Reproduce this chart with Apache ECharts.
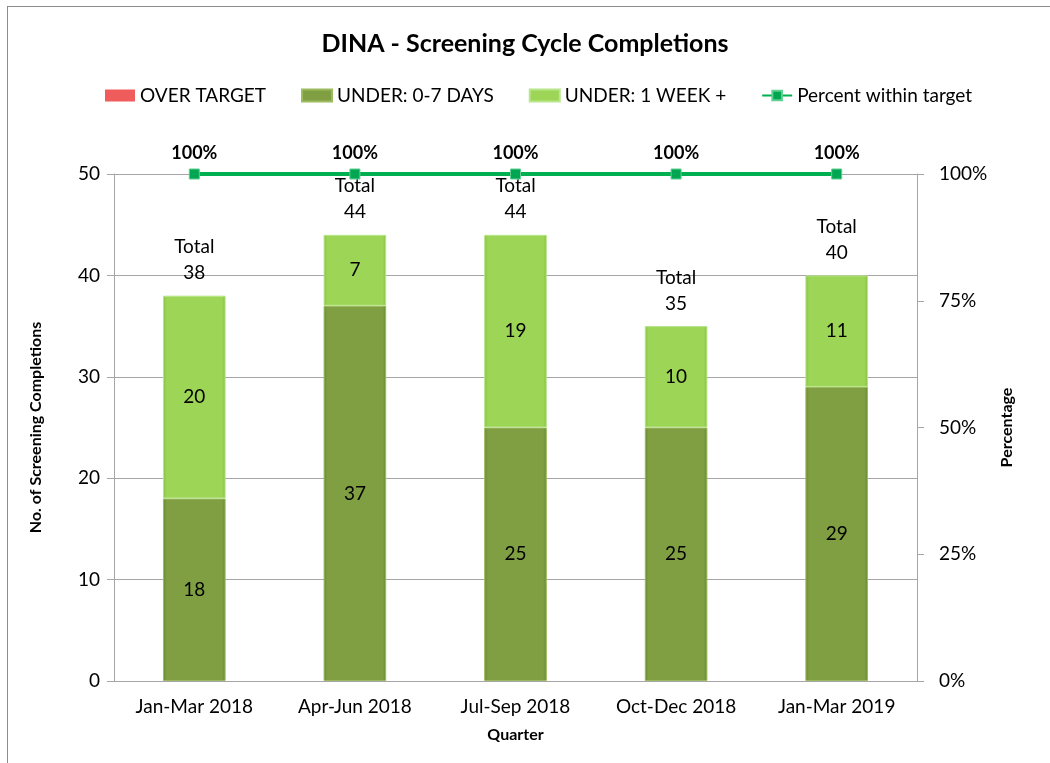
<!DOCTYPE html>
<html lang="en">
<head>
    <meta charset="UTF-8">
    <title>DINA - Screening Cycle Completions</title>
    <script src="https://cdn.jsdelivr.net/npm/echarts@6/dist/echarts.min.js"></script>
    <style>
        body { margin: 0; background: #ffffff; }
        #frame {
            position: absolute; left: 7px; top: 6px; width: 1060px; height: 780px;
            border: 1px solid #8c8c8c; box-sizing: border-box;
        }
        #chart { position: absolute; left: 0; top: 0; width: 1050px; height: 763px; }
    </style>
</head>
<body>
    <div id="frame"></div>
    <div id="chart"></div>
    <script>
        // chart data
        var quarters = ['Jan-Mar 2018', 'Apr-Jun 2018', 'Jul-Sep 2018', 'Oct-Dec 2018', 'Jan-Mar 2019'];
        var overTarget = [0, 0, 0, 0, 0];
        var under07 = [18, 37, 25, 25, 29];
        var underWeek = [20, 7, 19, 10, 11];
        var totals = [38, 44, 44, 35, 40];
        var pctWithin = [100, 100, 100, 100, 100];

        var font = 'Lato, "Open Sans", sans-serif';

        // slight darker edges to hint at the bevelled bars
        function barGrad(mid, dark) {
            return new echarts.graphic.LinearGradient(0, 0, 1, 0, [
                { offset: 0, color: dark },
                { offset: 0.06, color: mid },
                { offset: 0.94, color: mid },
                { offset: 1, color: dark }
            ]);
        }

        var chart = echarts.init(document.getElementById('chart'));

        var option = {
            textStyle: { fontFamily: font },
            title: {
                text: 'DINA - Screening Cycle Completions',
                left: 'center', top: 26,
                textStyle: { fontSize: 25, fontWeight: 'bold', color: '#000', fontFamily: font }
            },
            legend: {
                top: 81, left: 100,
                itemWidth: 30, itemHeight: 12, itemGap: 35,
                textStyle: { fontSize: 19, color: '#000', fontFamily: font },
                data: [
                    { name: 'OVER TARGET', icon: 'rect' },
                    { name: 'UNDER: 0-7 DAYS', icon: 'rect' },
                    { name: 'UNDER: 1 WEEK +', icon: 'rect' },
                    'Percent within target'
                ]
            },
            grid: { left: 114, right: 133, top: 174, bottom: 82 },
            xAxis: {
                type: 'category',
                data: quarters,
                name: 'Quarter',
                nameLocation: 'middle',
                nameGap: 46,
                nameTextStyle: { fontSize: 16, fontWeight: 'bold', color: '#000' },
                axisLine: { lineStyle: { color: '#a6a6a6' } },
                axisTick: { length: 7, lineStyle: { color: '#a6a6a6' } },
                axisLabel: { fontSize: 19, color: '#000', margin: 16 }
            },
            yAxis: [
                {
                    type: 'value', min: 0, max: 50, interval: 10,
                    name: 'No. of Screening Completions',
                    nameLocation: 'middle', nameRotate: 90, nameGap: 70,
                    nameTextStyle: { fontSize: 16, fontWeight: 'bold', color: '#000' },
                    axisLine: { show: true, lineStyle: { color: '#a6a6a6' } },
                    axisTick: { show: true, length: 7, lineStyle: { color: '#a6a6a6' } },
                    axisLabel: { fontSize: 19, color: '#000', margin: 14 },
                    splitLine: { lineStyle: { color: '#a6a6a6' } }
                },
                {
                    type: 'value', min: 0, max: 100, interval: 25,
                    name: 'Percentage',
                    nameLocation: 'middle', nameRotate: 90, nameGap: 82,
                    nameTextStyle: { fontSize: 16, fontWeight: 'bold', color: '#000' },
                    axisLine: { show: true, lineStyle: { color: '#a6a6a6' } },
                    axisTick: { show: true, length: 7, lineStyle: { color: '#a6a6a6' } },
                    axisLabel: { fontSize: 19, color: '#000', margin: 22, formatter: '{value}%' },
                    splitLine: { show: false }
                }
            ],
            series: [
                {
                    name: 'OVER TARGET', type: 'bar', stack: 'c', barWidth: '39%',
                    data: overTarget,
                    itemStyle: { color: '#f05b5b' },
                    label: { show: false }
                },
                {
                    name: 'UNDER: 0-7 DAYS', type: 'bar', stack: 'c', barWidth: '39%',
                    data: under07,
                    itemStyle: { color: barGrad('#7f9f42', '#6a8a32'), borderColor: '#9cbb5e', borderWidth: 1 },
                    label: { show: true, position: 'inside', fontSize: 19, color: '#000' }
                },
                {
                    name: 'UNDER: 1 WEEK +', type: 'bar', stack: 'c', barWidth: '39%',
                    data: underWeek,
                    itemStyle: { color: barGrad('#9dd657', '#86c044'), borderColor: '#b8e68a', borderWidth: 1 },
                    label: { show: true, position: 'inside', fontSize: 19, color: '#000' }
                },
                {
                    name: 'Total', type: 'line', data: totals,
                    symbol: 'circle', symbolSize: 1,
                    itemStyle: { color: 'rgba(0,0,0,0)' },
                    lineStyle: { opacity: 0 }, silent: true,
                    label: {
                        show: true, position: 'top', distance: 9,
                        fontSize: 19, color: '#000', lineHeight: 26,
                        formatter: function (p) { return 'Total\n' + p.value; }
                    }
                },
                {
                    name: 'Percent within target', type: 'line', yAxisIndex: 1,
                    data: pctWithin,
                    symbol: 'rect', symbolSize: 10,
                    itemStyle: { color: '#00a651', borderColor: '#5fd08f', borderWidth: 1 },
                    lineStyle: { color: '#00b050', width: 4 },
                    label: {
                        show: true, position: 'top', distance: 6,
                        fontSize: 18, fontWeight: 'bold', color: '#000',
                        formatter: '{c}%'
                    },
                    z: 5
                }
            ]
        };

        chart.setOption(option);
    </script>
</body>
</html>
